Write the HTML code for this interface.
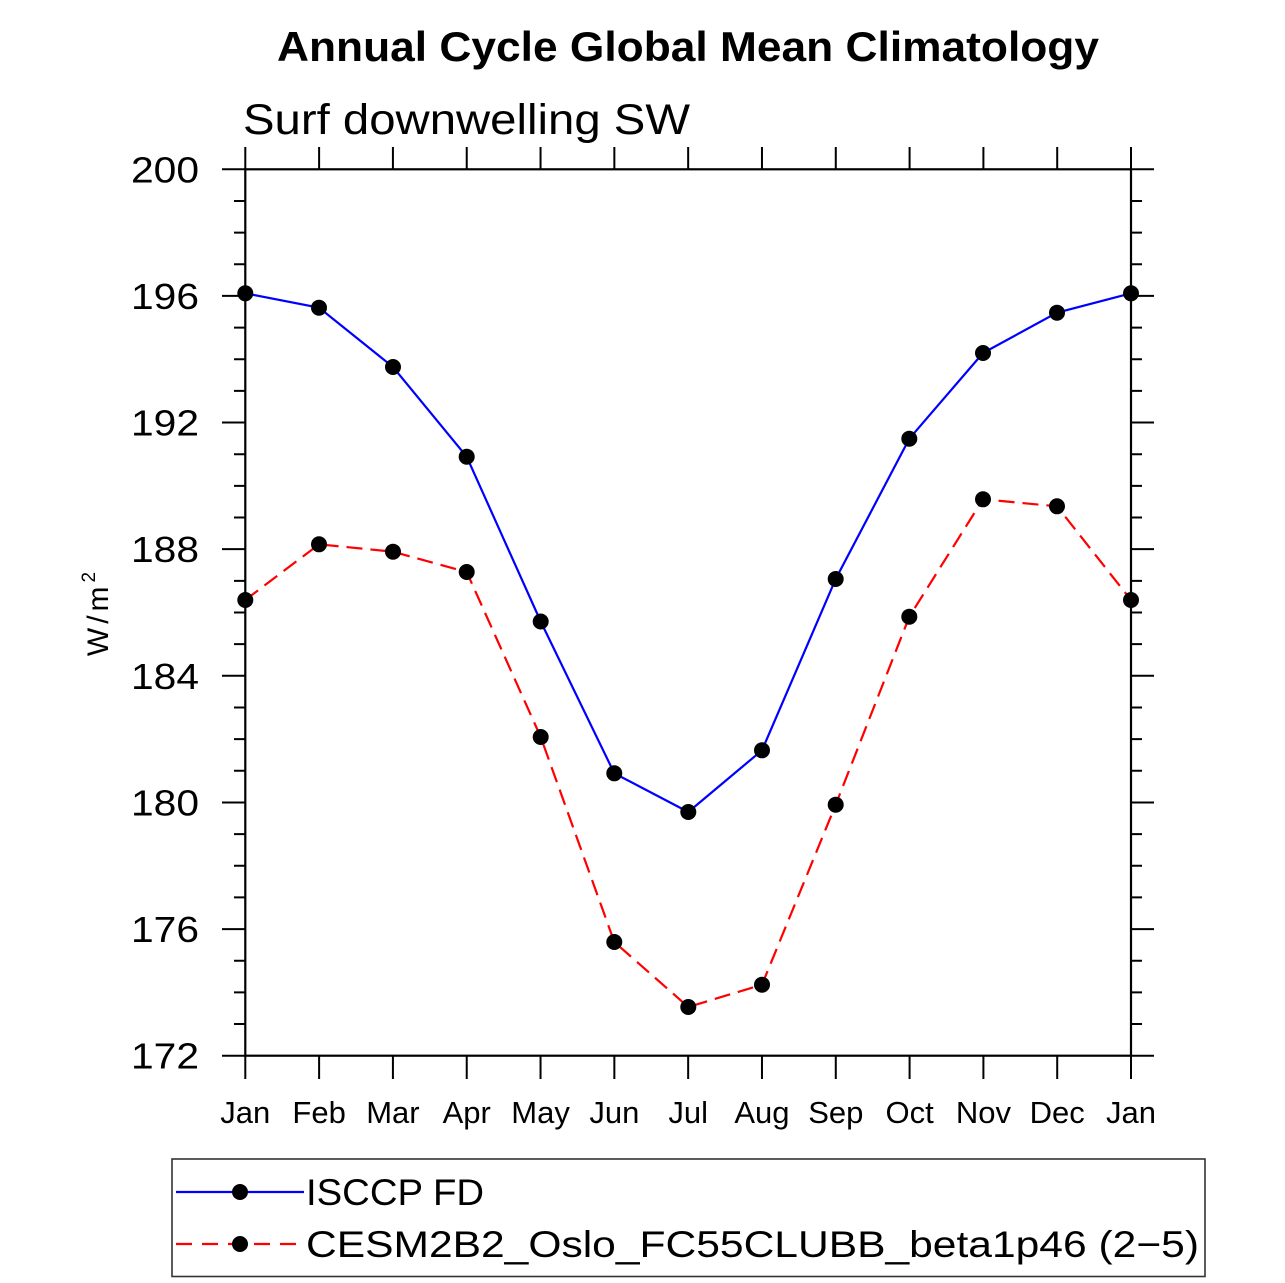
<!DOCTYPE html>
<html>
<head>
<meta charset="utf-8">
<style>
html,body{margin:0;padding:0;background:#fff;}
svg{display:block;}
text{font-family:"Liberation Sans",sans-serif;fill:#000;}
</style>
</head>
<body>
<svg width="1285" height="1283" viewBox="0 0 1285 1283" xmlns="http://www.w3.org/2000/svg">
<rect x="0" y="0" width="1285" height="1283" fill="#fff"/>

<!-- Title -->
<text x="277" y="61" font-size="42" font-weight="bold" textLength="822" lengthAdjust="spacingAndGlyphs">Annual Cycle Global Mean Climatology</text>
<!-- Subtitle -->
<text x="243" y="134" font-size="43" textLength="447" lengthAdjust="spacingAndGlyphs">Surf downwelling SW</text>

<!-- Frame -->
<rect x="245.3" y="169.3" width="885.7" height="886.4" fill="none" stroke="#000" stroke-width="2.2"/>

<!-- Ticks -->
<path stroke="#000" stroke-width="2" fill="none" d="
M222 169.3H245.3 M222 295.93H245.3 M222 422.56H245.3 M222 549.18H245.3 M222 675.81H245.3 M222 802.44H245.3 M222 929.07H245.3 M222 1055.7H245.3
M234 200.96H245.3 M234 232.61H245.3 M234 264.27H245.3
M234 327.59H245.3 M234 359.24H245.3 M234 390.90H245.3
M234 454.21H245.3 M234 485.87H245.3 M234 517.53H245.3
M234 580.84H245.3 M234 612.50H245.3 M234 644.16H245.3
M234 707.47H245.3 M234 739.13H245.3 M234 770.78H245.3
M234 834.10H245.3 M234 865.75H245.3 M234 897.41H245.3
M234 960.73H245.3 M234 992.38H245.3 M234 1024.04H245.3
M1131 169.3H1154 M1131 295.93H1154 M1131 422.56H1154 M1131 549.18H1154 M1131 675.81H1154 M1131 802.44H1154 M1131 929.07H1154 M1131 1055.7H1154
M1131 200.96H1142 M1131 232.61H1142 M1131 264.27H1142
M1131 327.59H1142 M1131 359.24H1142 M1131 390.90H1142
M1131 454.21H1142 M1131 485.87H1142 M1131 517.53H1142
M1131 580.84H1142 M1131 612.50H1142 M1131 644.16H1142
M1131 707.47H1142 M1131 739.13H1142 M1131 770.78H1142
M1131 834.10H1142 M1131 865.75H1142 M1131 897.41H1142
M1131 960.73H1142 M1131 992.38H1142 M1131 1024.04H1142
M245.3 147V169.3 M319.11 147V169.3 M392.92 147V169.3 M466.73 147V169.3 M540.54 147V169.3 M614.35 147V169.3 M688.16 147V169.3 M761.97 147V169.3 M835.78 147V169.3 M909.59 147V169.3 M983.4 147V169.3 M1057.21 147V169.3 M1131 147V169.3
M245.3 1055.7V1079 M319.11 1055.7V1079 M392.92 1055.7V1079 M466.73 1055.7V1079 M540.54 1055.7V1079 M614.35 1055.7V1079 M688.16 1055.7V1079 M761.97 1055.7V1079 M835.78 1055.7V1079 M909.59 1055.7V1079 M983.4 1055.7V1079 M1057.21 1055.7V1079 M1131 1055.7V1079
"/>

<!-- Y tick labels -->
<g font-size="36">
<text x="131" y="182.3" textLength="68" lengthAdjust="spacingAndGlyphs">200</text>
<text x="131" y="308.9" textLength="68" lengthAdjust="spacingAndGlyphs">196</text>
<text x="131" y="435.6" textLength="68" lengthAdjust="spacingAndGlyphs">192</text>
<text x="131" y="562.2" textLength="68" lengthAdjust="spacingAndGlyphs">188</text>
<text x="131" y="688.8" textLength="68" lengthAdjust="spacingAndGlyphs">184</text>
<text x="131" y="815.4" textLength="68" lengthAdjust="spacingAndGlyphs">180</text>
<text x="131" y="942.1" textLength="68" lengthAdjust="spacingAndGlyphs">176</text>
<text x="131" y="1068.7" textLength="68" lengthAdjust="spacingAndGlyphs">172</text>
</g>

<!-- X tick labels -->
<g font-size="31" text-anchor="middle">
<text x="245.3" y="1123">Jan</text>
<text x="319.11" y="1123">Feb</text>
<text x="392.92" y="1123">Mar</text>
<text x="466.73" y="1123">Apr</text>
<text x="540.54" y="1123">May</text>
<text x="614.35" y="1123">Jun</text>
<text x="688.16" y="1123">Jul</text>
<text x="761.97" y="1123">Aug</text>
<text x="835.78" y="1123">Sep</text>
<text x="909.59" y="1123">Oct</text>
<text x="983.4" y="1123">Nov</text>
<text x="1057.21" y="1123">Dec</text>
<text x="1131" y="1123">Jan</text>
</g>

<!-- Y axis label -->
<text transform="translate(108,612) rotate(-90)" font-size="30" text-anchor="middle" letter-spacing="4">W/m<tspan font-size="19" dy="-13">2</tspan></text>

<!-- Series -->
<polyline fill="none" stroke="#0000ff" stroke-width="2.2" points="245.3,293.3 319,307.7 393,367 466.7,456.7 540.7,621.5 614.3,773.3 688.3,812 762,750.3 835.7,579 909.3,438.7 983,353 1057,312.7 1131,293.3"/>
<polyline fill="none" stroke="#ff0000" stroke-width="2.2" stroke-dasharray="16,8" points="245.3,600 319,544.3 393,551.7 466.7,572 540.7,737 614.3,942 688.3,1007 762,984.7 835.7,804.7 909.3,616.7 983,499.3 1057,506.3 1131,600"/>

<g fill="#000">
<circle cx="245.3" cy="293.3" r="8"/><circle cx="319" cy="307.7" r="8"/><circle cx="393" cy="367" r="8"/><circle cx="466.7" cy="456.7" r="8"/><circle cx="540.7" cy="621.5" r="8"/><circle cx="614.3" cy="773.3" r="8"/><circle cx="688.3" cy="812" r="8"/><circle cx="762" cy="750.3" r="8"/><circle cx="835.7" cy="579" r="8"/><circle cx="909.3" cy="438.7" r="8"/><circle cx="983" cy="353" r="8"/><circle cx="1057" cy="312.7" r="8"/><circle cx="1131" cy="293.3" r="8"/>
<circle cx="245.3" cy="600" r="8"/><circle cx="319" cy="544.3" r="8"/><circle cx="393" cy="551.7" r="8"/><circle cx="466.7" cy="572" r="8"/><circle cx="540.7" cy="737" r="8"/><circle cx="614.3" cy="942" r="8"/><circle cx="688.3" cy="1007" r="8"/><circle cx="762" cy="984.7" r="8"/><circle cx="835.7" cy="804.7" r="8"/><circle cx="909.3" cy="616.7" r="8"/><circle cx="983" cy="499.3" r="8"/><circle cx="1057" cy="506.3" r="8"/><circle cx="1131" cy="600" r="8"/>
</g>

<!-- Legend -->
<rect x="172" y="1159" width="1033" height="117.5" fill="none" stroke="#333" stroke-width="1.6"/>
<line x1="176" y1="1192" x2="304" y2="1192" stroke="#0000ff" stroke-width="2.2"/>
<circle cx="240" cy="1192" r="8" fill="#000"/>
<line x1="176" y1="1244" x2="304" y2="1244" stroke="#ff0000" stroke-width="2.2" stroke-dasharray="16,10"/>
<circle cx="240" cy="1244" r="8" fill="#000"/>
<text x="306" y="1205" font-size="37" textLength="178" lengthAdjust="spacingAndGlyphs">ISCCP FD</text>
<text x="306" y="1257" font-size="37" textLength="893" lengthAdjust="spacingAndGlyphs">CESM2B2_Oslo_FC55CLUBB_beta1p46 (2−5)</text>
</svg>
</body>
</html>
